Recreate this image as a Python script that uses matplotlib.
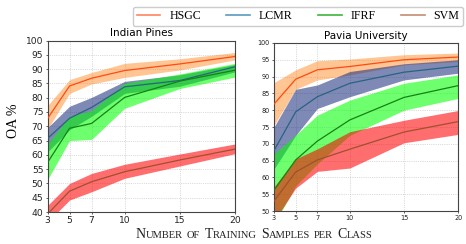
import matplotlib
matplotlib.use("Agg")
import matplotlib.pyplot as plt
from matplotlib.lines import Line2D
from matplotlib.offsetbox import TextArea, HPacker, AnchoredOffsetbox

samples = [3, 5, 7, 10, 15, 20]
methods = ["HSGC", "LCMR", "IFRF", "SVM"]

# Indian Pines: mean OA and band limits
ip_mean = {
    "HSGC": [72.7, 84.1, 86.8, 89.5, 91.8, 94.4],
    "LCMR": [65.7, 72.8, 76.6, 83.8, 86.0, 90.8],
    "IFRF": [57.3, 69.3, 71.0, 80.1, 85.8, 89.6],
    "SVM": [39.3, 47.3, 50.6, 54.1, 58.2, 62.0],
}
ip_low = {
    "HSGC": [69.0, 81.5, 84.8, 87.1, 89.7, 93.2],
    "LCMR": [61.0, 68.8, 73.5, 81.5, 84.0, 89.0],
    "IFRF": [51.3, 65.0, 65.4, 76.3, 83.2, 87.2],
    "SVM": [36.5, 44.2, 47.1, 51.8, 56.1, 60.4],
}
ip_high = {
    "HSGC": [77.2, 86.3, 88.8, 92.0, 93.6, 95.8],
    "LCMR": [69.5, 77.0, 80.1, 85.7, 88.0, 91.6],
    "IFRF": [63.8, 73.5, 75.5, 85.0, 88.3, 92.0],
    "SVM": [42.3, 50.0, 53.5, 56.7, 60.3, 63.8],
}

# Pavia University
pu_mean = {
    "HSGC": [81.8, 89.2, 92.0, 93.0, 95.0, 95.8],
    "LCMR": [68.0, 79.5, 84.0, 88.0, 91.3, 93.1],
    "IFRF": [56.2, 65.2, 70.8, 77.1, 83.8, 87.3],
    "SVM": [53.0, 61.6, 65.2, 68.4, 73.5, 76.6],
}
pu_low = {
    "HSGC": [75.5, 86.2, 89.0, 90.5, 93.5, 94.5],
    "LCMR": [62.5, 72.5, 80.5, 84.0, 89.0, 91.0],
    "IFRF": [46.0, 57.5, 64.0, 72.5, 80.0, 83.5],
    "SVM": [47.0, 56.8, 61.8, 62.8, 70.3, 72.8],
}
pu_high = {
    "HSGC": [88.2, 92.0, 94.7, 95.2, 96.5, 97.0],
    "LCMR": [75.0, 86.2, 87.5, 91.5, 93.8, 95.0],
    "IFRF": [67.0, 72.6, 78.5, 83.0, 88.0, 90.5],
    "SVM": [57.2, 65.5, 68.5, 73.6, 77.0, 79.9],
}

line_colors = {"HSGC": "#ff4a14", "LCMR": "#28647f", "IFRF": "#148214", "SVM": "#a0502e"}
legend_colors = {"HSGC": "#ff8460", "LCMR": "#5a9bbe", "IFRF": "#3cb43c", "SVM": "#c38c73"}
fill_colors = {"HSGC": "#ff7f0e", "LCMR": "#142878", "IFRF": "lime", "SVM": "red"}
fill_alpha = {"HSGC": 0.45, "LCMR": 0.55, "IFRF": 0.57, "SVM": 0.57}

fig = plt.figure(figsize=(4.66, 2.44), dpi=100)
ax1 = fig.add_axes([0.102, 0.131, 0.402, 0.703])
ax2 = fig.add_axes([0.588, 0.135, 0.395, 0.689])


def draw_panel(ax, mean, low, high, title, ymin, tick_size):
    for m in methods:
        ax.fill_between(samples, low[m], high[m], color=fill_colors[m],
                        alpha=fill_alpha[m], lw=0, zorder=2)
    for m in methods:
        ax.plot(samples, mean[m], color=line_colors[m], lw=0.9, zorder=3)
    ax.set_xlim(3, 20)
    ax.set_ylim(ymin, 100)
    ax.set_xticks(samples)
    ax.set_yticks(range(ymin, 101, 5))
    ax.tick_params(labelsize=tick_size, length=1.5, width=0.5, pad=1.5, colors="#222222")
    ax.grid(True, ls=":", lw=0.5, color="#bbbbbb", zorder=0)
    for s in ax.spines.values():
        s.set_color("#444444")
        s.set_linewidth(0.8)
    ax.set_title(title, fontsize=7.5, pad=3)


draw_panel(ax1, ip_mean, ip_low, ip_high, "Indian Pines", 40, 6.6)
draw_panel(ax2, pu_mean, pu_low, pu_high, "Pavia University", 50, 4.7)

handles = [Line2D([], [], color=legend_colors[m], lw=1.2) for m in methods]
fig.legend(handles, methods, loc="upper right", bbox_to_anchor=(0.994, 0.972),
           ncol=4, frameon=True, fancybox=True, edgecolor="#cccccc", framealpha=1,
           prop={"family": "Liberation Serif", "size": 8.6}, handlelength=2.0,
           handletextpad=0.75, columnspacing=2.1, borderaxespad=0, borderpad=0.3)

fig.text(0.028, 0.505, "OA %", rotation=90, ha="center", va="center",
         family="Liberation Serif", fontsize=10)

# small caps x label
words = ["Number", "of", "Training", "Samples", "per", "Class"]
parts = []
for w in words:
    big = {"family": "Liberation Serif", "size": 10, "color": "#222222"}
    small = {"family": "Liberation Serif", "size": 7.6, "color": "#222222"}
    pieces = []
    if w[0].isupper():
        pieces.append(TextArea(w[0], textprops=big))
        pieces.append(TextArea(w[1:].upper(), textprops=small))
    else:
        pieces.append(TextArea(w.upper(), textprops=small))
    parts.append(HPacker(children=pieces, align="baseline", pad=0, sep=0))
xlabel = HPacker(children=parts, align="baseline", pad=0, sep=3)
box = AnchoredOffsetbox(loc="center", child=xlabel, frameon=False,
                        bbox_to_anchor=(0.545, 0.04), bbox_transform=fig.transFigure,
                        borderpad=0, pad=0)
fig.add_artist(box)

fig.savefig("out.png", dpi=100)
